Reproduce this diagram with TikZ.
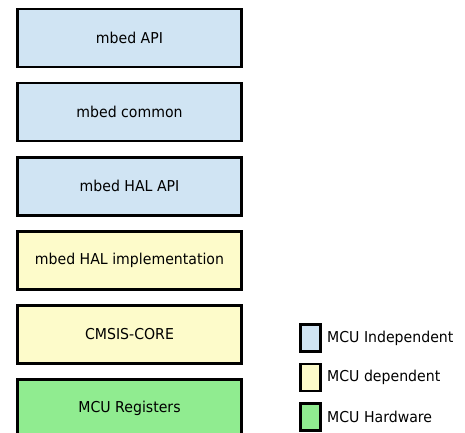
\documentclass[tikz,border=0pt]{standalone}
\usepackage{fontspec}
\setmainfont{DejaVu Sans}[FakeStretch=0.94]
\usetikzlibrary{positioning}
\definecolor{indepblue}{RGB}{208,228,243}
\definecolor{depyellow}{RGB}{253,251,202}
\definecolor{hwgreen}{RGB}{144,236,144}
\tikzset{layer/.style={draw=black, line width=2.6pt, minimum width=224pt, minimum height=58pt, inner sep=0pt, font=\fontsize{15}{18}\selectfont},
  key/.style={draw=black, line width=2.6pt, minimum width=20pt, minimum height=27pt, inner sep=0pt},
  keytext/.style={anchor=west, inner sep=0pt, font=\fontsize{15}{18}\selectfont}}
\begin{document}
\begin{tikzpicture}[x=1pt,y=1pt]
\useasboundingbox (0,0) rectangle (465,-432);
\clip (0,0) rectangle (465,-432);
\fill[white] (0,0) rectangle (465,-432);
% layer stack
\node[layer, fill=indepblue] (api) at (129.5,-38) {mbed API};
\node[layer, fill=indepblue, below=13.5pt of api] (common) {mbed common};
\node[layer, fill=indepblue, below=13.5pt of common] (halapi) {mbed HAL API};
\node[layer, fill=depyellow, below=13.5pt of halapi] (halimpl) {mbed HAL implementation};
\node[layer, fill=depyellow, below=13.5pt of halimpl] (cmsis) {CMSIS-CORE};
\node[layer, fill=hwgreen, below=13.5pt of cmsis] (regs) {MCU Registers};
% legend
\node[key, fill=indepblue] (kindep) at (310.5,-338) {};
\node[key, fill=depyellow] (kdep) at (310.5,-377.5) {};
\node[key, fill=hwgreen] (khw) at (310.5,-417) {};
\node[keytext] (tindep) at (327,-338) {MCU Independent};
\node[keytext] (tdep) at (327,-377.5) {MCU dependent};
\node[keytext] (thw) at (327,-417) {MCU Hardware};
\end{tikzpicture}
\end{document}
